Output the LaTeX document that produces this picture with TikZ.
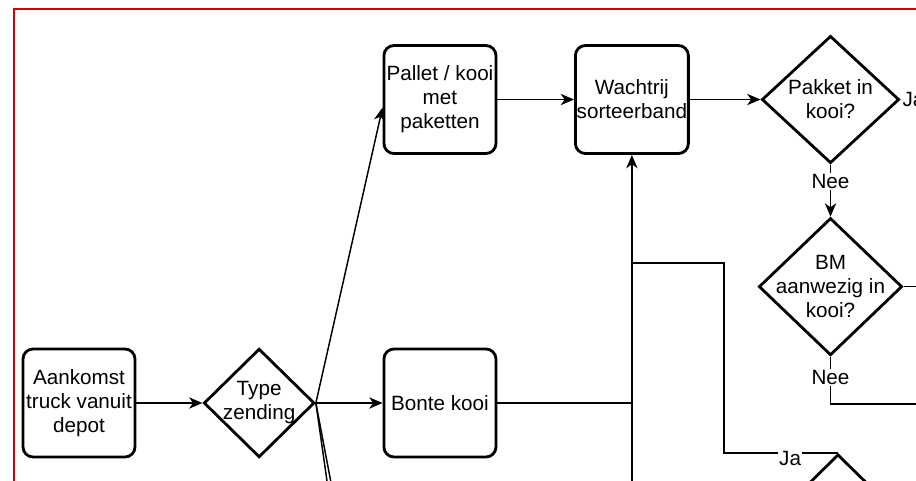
\documentclass[tikz,border=0pt]{standalone}
\usepackage{fontspec}
\setmainfont{Liberation Sans}
\usetikzlibrary{shapes.geometric,positioning,arrows.meta}

\begin{document}
\begin{tikzpicture}[
  x=0.75pt, y=-0.75pt,
  box/.style={rectangle, rounded corners=7.5pt, draw, line width=2.1pt, align=center, minimum width=84pt, minimum height=81pt, inner sep=1pt, font=\fontsize{15.5}{18}\selectfont},
  decision/.style={diamond, draw, line width=2.1pt, align=center, inner sep=-12pt, font=\fontsize{15.5}{18}\selectfont},
  arrow/.style={-{Stealth[length=10pt, width=8.5pt, inset=3pt]}, line width=1.1pt},
  link/.style={line width=1.1pt},
  tag/.style={fill=white, inner sep=1pt, font=\fontsize{15.5}{18}\selectfont},
]
\useasboundingbox (0,0) rectangle (916,481);
\clip (0,0) rectangle (916,481);

% === Frame of the screenshot ===
\draw[red!85!black, line width=1.5pt] (14,500) -- (14,9.5) -- (940,9.5);

% === Arrival and type of shipment ===
\node[box] (truck) at (79,403) {Aankomst\\truck vanuit\\depot};
\node[decision, minimum width=83pt, minimum height=81.5pt, right=49.5pt of truck] (type) {Type\\zending};
\node[box, right=50pt of type] (bonte) {Bonte kooi};
\node[box, above=144.5pt of bonte] (pallet) {Pallet / kooi\\met\\paketten};

\draw[arrow] (truck) -- (type);
\draw[arrow] (type.east) -- (bonte);
\draw[arrow] (type.east) -- ([yshift=-6pt]pallet.west);

% branches leaving the picture below
\coordinate (outA) at (334,530);
\coordinate (outB) at (340,530);
\draw[arrow] (type.east) -- (outA);
\draw[arrow] (type.east) -- (outB);

% === Sorting belt and checks ===
\node[box, right=57.5pt of pallet] (wacht) {Wachtrij\\sorteerband};
\node[decision, minimum width=103pt, minimum height=95.5pt, right=53pt of wacht] (pakket) {Pakket in\\kooi?};
\node[decision, minimum width=107.5pt, minimum height=103pt, below=39pt of pakket] (bm) {BM\\aanwezig in\\kooi?};
\node[decision, minimum width=105pt, minimum height=103pt, anchor=north] (low) at (838,453) {};

\draw[arrow] (pallet) -- (wacht);
\draw[arrow] (wacht) -- (pakket);
\draw[arrow] (pakket.south) -- node[tag, pos=0.33] (neeTop) {Nee} (bm.north);

\coordinate (pakout) at (pakket.east -| 940,0);
\coordinate (bmout) at (bm.east -| 940,0);
\coordinate (bmfar) at (940,404);
\draw[link] (pakket.east) -- node[tag, at start, anchor=west] (jaTop) {Ja} (pakout);
\draw[link] (bm.east) -- (bmout);
\draw[link] (bm.south) -- node[tag, pos=0.43] (neeMid) {Nee} (bm.south |- bmfar) -- (bmfar);

% === Back to the belt ===
\coordinate (upin) at (wacht.south |- 0,530);
\coordinate (fbdown) at (724,453);
\coordinate (fbturn) at (724,263);
\draw[arrow] (upin) -- (wacht.south);
\draw[link] (bonte.east) -- (bonte.east -| wacht.south);
\draw[link] (low.north) -- node[tag, pos=0.42, yshift=-4pt] (jaLow) {Ja} (fbdown) -- (fbturn) -- (fbturn -| wacht.south);

\end{tikzpicture}
\end{document}
